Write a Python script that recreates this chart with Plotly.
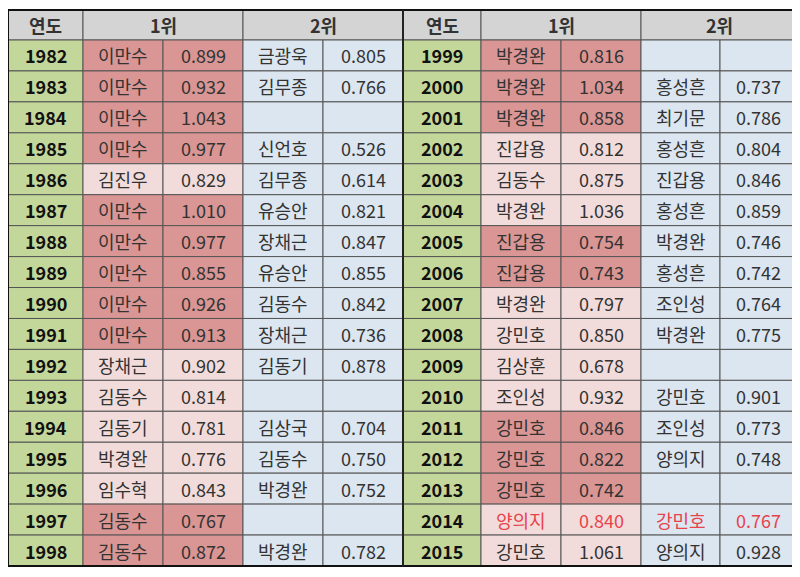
import plotly.graph_objects as go

years_a = [1982,1983,1984,1985,1986,1987,1988,1989,1990,1991,1992,1993,1994,1995,1996,1997,1998]
first_a = ["이만수","이만수","이만수","이만수","김진우","이만수","이만수","이만수","이만수","이만수","장채근","김동수","김동기","박경완","임수혁","김동수","김동수"]
first_va = ["0.899","0.932","1.043","0.977","0.829","1.010","0.977","0.855","0.926","0.913","0.902","0.814","0.781","0.776","0.843","0.767","0.872"]
dark_a = [1,1,1,1,0,1,1,1,1,1,0,0,0,0,0,1,1]
second_a = ["금광욱","김무종","","신언호","김무종","유승안","장채근","유승안","김동수","장채근","김동기","","김상국","김동수","박경완","","박경완"]
second_va = ["0.805","0.766","","0.526","0.614","0.821","0.847","0.855","0.842","0.736","0.878","","0.704","0.750","0.752","","0.782"]

years_b = [1999,2000,2001,2002,2003,2004,2005,2006,2007,2008,2009,2010,2011,2012,2013,2014,2015]
first_b = ["박경완","박경완","박경완","진갑용","김동수","박경완","진갑용","진갑용","박경완","강민호","김상훈","조인성","강민호","강민호","강민호","양의지","강민호"]
first_vb = ["0.816","1.034","0.858","0.812","0.875","1.036","0.754","0.743","0.797","0.850","0.678","0.932","0.846","0.822","0.742","0.840","1.061"]
dark_b = [1,1,1,0,0,0,1,1,0,0,0,0,1,1,1,0,0]
second_b = ["","홍성흔","최기문","홍성흔","진갑용","홍성흔","박경완","홍성흔","조인성","박경완","","강민호","조인성","양의지","","강민호","양의지"]
second_vb = ["","0.737","0.786","0.804","0.846","0.859","0.746","0.742","0.764","0.775","","0.901","0.773","0.748","","0.767","0.928"]
red_text_years = [2014]

GREEN, GREY, DARK, LIGHT, BLUE = "#c4d79b", "#d4d4d4", "#da9694", "#f2dcdb", "#dce6f1"
FONT = "Noto Sans CJK KR"
top, hh = 10, 30
n = len(years_a)
rh = (566 - top - hh) / n

fig = go.Figure()
shapes, ann = [], []

def cell(x0, x1, y0, y1, color, text="", bold=False, tcolor="#333"):
    shapes.append(dict(type="rect", x0=x0, x1=x1, y0=y0, y1=y1, fillcolor=color,
                       line=dict(color="#555", width=1), layer="below"))
    if text:
        t = f"<b>{text}</b>" if bold else text
        ann.append(dict(x=(x0+x1)/2, y=(y0+y1)/2, text=t, showarrow=False,
                        font=dict(family=FONT, size=18, color=tcolor), xanchor="center", yanchor="middle"))

halves = [(8, [75, 80, 80, 80, 80], years_a, first_a, first_va, dark_a, second_a, second_va),
          (403, [78, 80, 80, 79, 77], years_b, first_b, first_vb, dark_b, second_b, second_vb)]
for x0, w, yrs, f, fv, dk, s, sv in halves:
    xs = [x0]
    for ww in w:
        xs.append(xs[-1] + ww)
    cell(xs[0], xs[1], top, top+hh, GREY, "연도", True)
    cell(xs[1], xs[3], top, top+hh, GREY, "1위", True)
    cell(xs[3], xs[5], top, top+hh, GREY, "2위", True)
    for i in range(n):
        y0 = top + hh + i*rh
        y1 = y0 + rh
        tc = "#e8424a" if yrs[i] in red_text_years else "#333"
        fc = DARK if dk[i] else LIGHT
        cell(xs[0], xs[1], y0, y1, GREEN, str(yrs[i]), True, "#111")
        cell(xs[1], xs[2], y0, y1, fc, f[i], False, tc)
        cell(xs[2], xs[3], y0, y1, fc, fv[i], False, tc)
        cell(xs[3], xs[4], y0, y1, BLUE, s[i], False, tc)
        cell(xs[4], xs[5], y0, y1, BLUE, sv[i], False, tc)

shapes.append(dict(type="rect", x0=8, x1=797, y0=top, y1=566, line=dict(color="#111", width=2)))
shapes.append(dict(type="line", x0=403, x1=403, y0=top, y1=566, line=dict(color="#222", width=2)))
shapes.append(dict(type="line", x0=0, x1=808, y0=4, y1=4, line=dict(color="#111", width=3)))

fig.update_layout(width=800, height=577, margin=dict(l=0, r=0, t=0, b=0),
                  paper_bgcolor="white", plot_bgcolor="white", shapes=shapes, annotations=ann,
                  xaxis=dict(range=[8, 808], visible=False),
                  yaxis=dict(range=[585, 8], visible=False), showlegend=False)
fig.write_html("out.html")
